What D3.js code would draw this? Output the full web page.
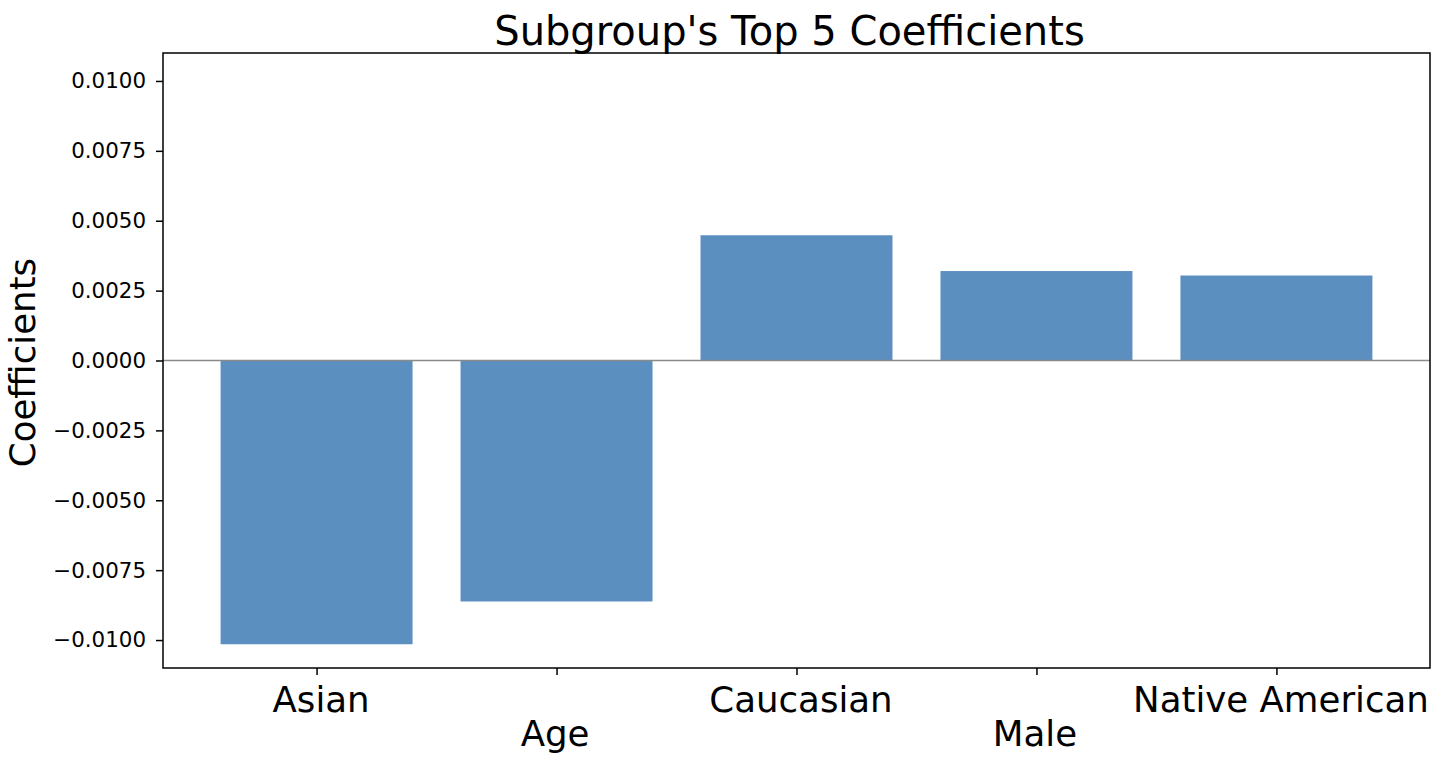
<!DOCTYPE html>
<html>
<head>
<meta charset="utf-8">
<script src="https://cdn.jsdelivr.net/npm/d3@7"></script>
<style>
  html, body { margin: 0; padding: 0; background: #fff; }
  svg { display: block; font-family: "DejaVu Sans", sans-serif; }
</style>
</head>
<body>
<svg id="chart" width="1444" height="768"></svg>
<script>
const categories = ["Asian", "Age", "Caucasian", "Male", "Native American"];
const coefficients = [-0.01015, -0.00862, 0.00448, 0.00320, 0.00304];
const yTicks = [-0.0100, -0.0075, -0.0050, -0.0025, 0.0000, 0.0025, 0.0050, 0.0075, 0.0100];
const titleText = "Subgroup's Top 5 Coefficients";
const yLabelText = "Coefficients";

const W = 1444, H = 768;
const plot = { left: 163, right: 1430, top: 53, bottom: 668 };
const svg = d3.select("#chart");

const x = d3.scaleLinear().domain([-0.64, categories.length - 1 + 0.64]).range([plot.left, plot.right]);
const barW = (x(0.4) - x(-0.4));
const y = d3.scaleLinear().domain([-0.011, 0.011]).range([plot.bottom, plot.top]);

// bars
svg.append("g").selectAll("rect").data(coefficients).join("rect")
  .attr("x", (d, i) => x(i) - barW / 2)
  .attr("width", barW)
  .attr("y", d => y(Math.max(0, d)))
  .attr("height", d => Math.abs(y(d) - y(0)))
  .attr("fill", "#5b8fbf");

// zero line
svg.append("line")
  .attr("x1", plot.left).attr("x2", plot.right)
  .attr("y1", y(0)).attr("y2", y(0))
  .attr("stroke", "#8a8a8a").attr("stroke-width", 1.5);

// y axis
const yAxis = d3.axisLeft(y).tickValues(yTicks).tickFormat(d3.format(".4f")).tickSize(7).tickPadding(10);
const gy = svg.append("g").attr("transform", `translate(${plot.left},0)`).call(yAxis);
gy.select(".domain").remove();
gy.selectAll(".tick line").attr("stroke", "#000").attr("stroke-width", 1.5);
gy.selectAll(".tick text").attr("font-size", 21.4).attr("fill", "#000")
  .attr("font-family", "DejaVu Sans");

// x axis
const xAxis = d3.axisBottom(x).tickValues(d3.range(categories.length)).tickFormat(i => categories[i]).tickSize(7);
const gx = svg.append("g").attr("transform", `translate(0,${plot.bottom})`).call(xAxis);
gx.select(".domain").remove();
gx.selectAll(".tick line").attr("stroke", "#000").attr("stroke-width", 1.5);
gx.selectAll(".tick text")
  .attr("font-size", 35.6).attr("fill", "#000").attr("font-family", "DejaVu Sans")
  .attr("dy", null)
  .attr("x", (d, i) => (i % 2 === 0 ? 4 : -2))
  .attr("y", (d, i) => (i % 2 === 0 ? 44 : 78));

// frame
svg.append("rect")
  .attr("x", plot.left).attr("y", plot.top)
  .attr("width", plot.right - plot.left).attr("height", plot.bottom - plot.top)
  .attr("fill", "none").attr("stroke", "#000").attr("stroke-width", 1.5);

// title
svg.append("text")
  .attr("x", (plot.left + plot.right) / 2 - 7).attr("y", 45)
  .attr("text-anchor", "middle").attr("font-size", 40).attr("fill", "#000")
  .text(titleText);

// y label
svg.append("text")
  .attr("transform", `translate(35,${(plot.top + plot.bottom) / 2 + 2}) rotate(-90)`)
  .attr("text-anchor", "middle").attr("font-size", 35.6).attr("fill", "#000")
  .text(yLabelText);
</script>
</body>
</html>
